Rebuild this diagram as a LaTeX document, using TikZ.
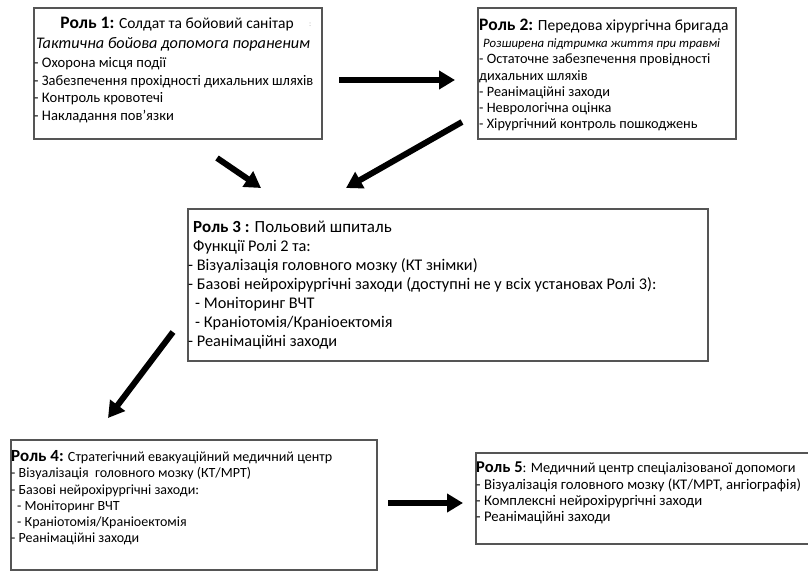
\documentclass[tikz,border=0pt]{standalone}
\usepackage{fontspec}
\setmainfont{Carlito}
\usetikzlibrary{arrows.meta}
\definecolor{boxline}{RGB}{85,85,85}
\newcommand{\bigbf}[2]{{\fontsize{#1}{#1}\selectfont\bfseries #2}}
\begin{document}
\begin{tikzpicture}[x=1pt,y=-1pt,
  box/.style={draw=boxline, line width=1.5pt, fill=white, inner sep=0pt, anchor=north west},
  txt/.style={anchor=base west, inner sep=0pt, text=black},
  fa/.style={font=\fontsize{14.6}{17}\selectfont},
  fah/.style={font=\fontsize{15.5}{17}\selectfont},
  fai/.style={font=\fontsize{16.2}{17}\selectfont\itshape},
  fb/.style={font=\fontsize{14.3}{17}\selectfont},
  fbh/.style={font=\fontsize{15.5}{17}\selectfont},
  fbi/.style={font=\fontsize{12.8}{14}\selectfont\itshape},
  fc/.style={font=\fontsize{16.3}{18}\selectfont},
  fch/.style={font=\fontsize{17}{18}\selectfont},
  fd/.style={font=\fontsize{14}{16}\selectfont},
  fdh/.style={font=\fontsize{14.1}{16}\selectfont},
  fe/.style={font=\fontsize{14.7}{16}\selectfont},
  feh/.style={font=\fontsize{14.3}{16}\selectfont},
  arr/.style={line width=6pt, -{Triangle[width=18pt,length=16pt]}}]
\useasboundingbox (0,0) rectangle (808,571);
\clip (0,0) rectangle (808,571);
\fill[white] (0,0) rectangle (808,571);

% boxes
\node[box, minimum width=288pt, minimum height=131pt] (r1) at (33,7) {};
\node[box, minimum width=258pt, minimum height=131pt] (r2) at (477,7) {};
\node[box, minimum width=520pt, minimum height=152pt] (r3) at (187,208) {};
\node[box, minimum width=366pt, minimum height=130pt] (r4) at (10,439) {};
\node[box, minimum width=345pt, minimum height=91pt] (r5) at (475,452) {};

% Role 1
\node[txt, fah, anchor=base] (t11) at (177,28) {\bigbf{17.5}{Роль 1:} Солдат та бойовий санітар};
\node[txt, font=\fontsize{8}{9}\selectfont, text=black!30] (t1c) at (309,26) {:};
\node[txt, fai] (t12) at (36,48) {Тактична бойова допомога пораненим};
\node[txt, fa] (t13) at (34,67) {- Охорона місця події};
\node[txt, fa] (t14) at (34,85) {\resizebox{279pt}{\height}{- Забезпечення прохідності дихальних шляхів}};
\node[txt, fa] (t15) at (34,102) {- Контроль кровотечі};
\node[txt, fa] (t16) at (34,120) {- Накладання пов'язки};

% Role 2
\node[txt, fbh] (t21) at (479,30) {\bigbf{17.5}{Роль 2:} Передова хірургічна бригада};
\node[txt, fbi] (t22) at (483,47) {Розширена підтримка життя при травмі};
\node[txt, fb] (t23) at (479,63) {- Остаточне забезпечення провідності};
\node[txt, fb] (t24) at (479,80) {дихальних шляхів};
\node[txt, fb] (t25) at (479,96) {- Реанімаційні заходи};
\node[txt, fb] (t26) at (479,112) {- Неврологічна оцінка};
\node[txt, fb] (t27) at (479,128) {- Хірургічний контроль пошкоджень};

% Role 3
\node[txt, fch] (t31) at (193,232) {\textbf{Роль 3 :} Польовий шпиталь};
\node[txt, fc] (t32) at (193,251) {Функції Ролі 2 та:};
\node[txt, fc] (t33) at (188,270) {- Візуалізація головного мозку (КТ знімки)};
\node[txt, fc] (t34) at (188,289) {- Базові нейрохірургічні заходи (доступні не у всіх установах Ролі 3):};
\node[txt, fc] (t35) at (195,308) {- Моніторинг ВЧТ};
\node[txt, fc] (t36) at (195,327) {- Краніотомія/Краніоектомія};
\node[txt, fc] (t37) at (188,346) {- Реанімаційні заходи};

% Role 4
\node[txt, fdh] (t41) at (11,461) {\bigbf{17}{Роль 4:} Стратегічний евакуаційний медичний центр};
\node[txt, fd] (t42) at (11,477) {- Візуалізація\ \ головного мозку (КТ/МРТ)};
\node[txt, fd] (t43) at (11,494) {- Базові нейрохірургічні заходи:};
\node[txt, fd] (t44) at (17,510) {- Моніторинг ВЧТ};
\node[txt, fd] (t45) at (17,526) {- Краніотомія/Краніоектомія};
\node[txt, fd] (t46) at (11,542) {- Реанімаційні заходи};

% Role 5
\node[txt, feh] (t51) at (476,472) {\bigbf{16.5}{Роль 5}: Медичний центр спеціалізованої допомоги};
\node[txt, fe] (t52) at (476,489) {- Візуалізація головного мозку (КТ/МРТ, ангіографія)};
\node[txt, fe] (t53) at (476,505) {- Комплексні нейрохірургічні заходи};
\node[txt, fe] (t54) at (476,521) {- Реанімаційні заходи};

% arrows
\coordinate (a1s) at (339,80);  \coordinate (a1e) at (455,80);
\coordinate (a2s) at (217,158); \coordinate (a2e) at (261,188);
\coordinate (a3s) at (462,122); \coordinate (a3e) at (346,188);
\coordinate (a4s) at (173,332); \coordinate (a4e) at (108,418);
\coordinate (a5s) at (388,503); \coordinate (a5e) at (463,503);
\draw[arr] (a1s) -- (a1e);
\draw[arr] (a2s) -- (a2e);
\draw[arr] (a3s) -- (a3e);
\draw[arr] (a4s) -- (a4e);
\draw[arr] (a5s) -- (a5e);
\end{tikzpicture}
\end{document}
